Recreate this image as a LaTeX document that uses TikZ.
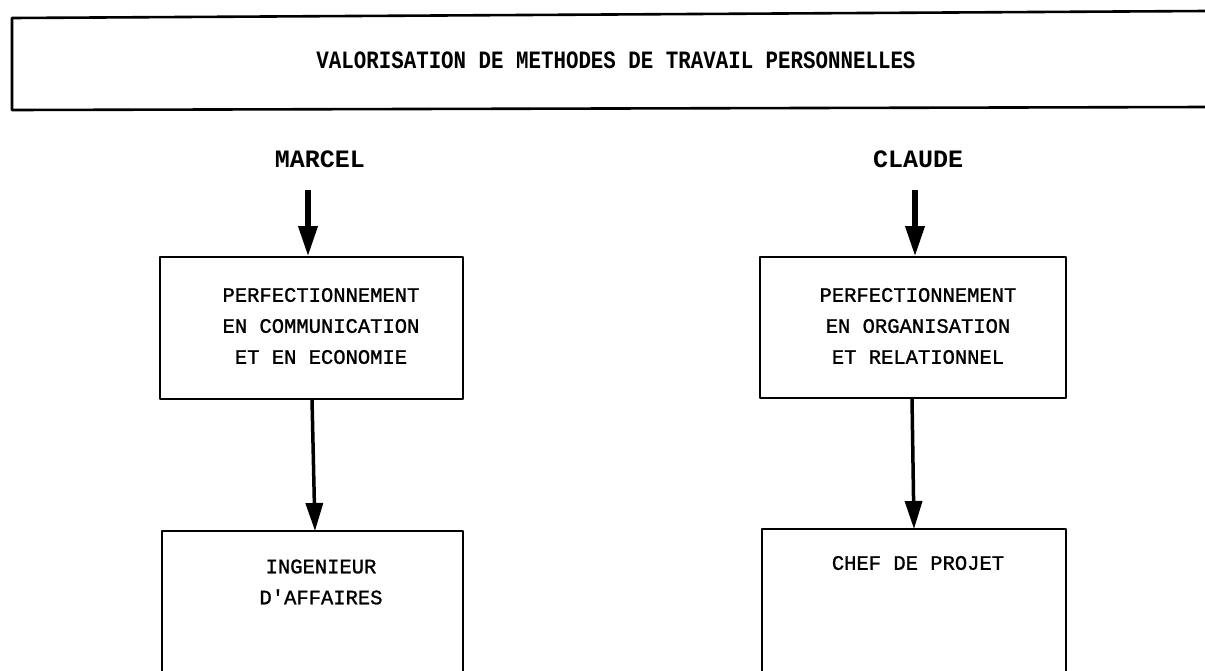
\documentclass[tikz,border=0pt]{standalone}
\usepackage{fontspec}
\newfontfamily\mono[FakeBold=1.2]{Liberation Mono}
\newfontfamily\monobold{Liberation Mono Bold}
\usetikzlibrary{arrows.meta}
\begin{document}
\begin{tikzpicture}[x=1pt,y=-1pt,
  edge/.style={line width=2.6pt, line cap=round, line join=round},
  stage/.style={minimum width=#1, inner sep=0pt, outer sep=0pt},
  label/.style={font=\mono\fontsize{20.5}{31}\selectfont, align=center, inner sep=0pt},
  who/.style={font=\monobold\fontsize{25}{30}\selectfont, inner sep=0pt},
  thickarrow/.style={line width=6.5pt, -{Triangle[length=31pt,width=18pt]}},
  thinarrow/.style={line width=3.5pt, -{Triangle[length=28pt,width=17pt]}}
]
\useasboundingbox (0,0) rectangle (1205,670);

% heading band, open on the right
\draw[edge] (1206,11) -- (12,18) -- (12,110) -- (1206,107);
\node[font=\monobold\fontsize{20.8}{25}\selectfont, inner sep=0pt] (title) at (616,60)
  {\scalebox{1}[1.2]{VALORISATION DE METHODES DE TRAVAIL PERSONNELLES}};

% names
\node[who] (marcel) at (320,159) {MARCEL};
\node[who] (claude) at (918,159) {CLAUDE};

% training boxes
\node[stage=303pt, minimum height=142pt, draw, edge] (trainM) at (311.5,328) {};
\node[stage=306pt, minimum height=141pt, draw, edge] (trainC) at (913,327.5) {};
\node[label] (trainMtxt) at (321,326) {PERFECTIONNEMENT\\EN COMMUNICATION\\ET EN ECONOMIE};
\node[label] (trainCtxt) at (918,326) {PERFECTIONNEMENT\\EN ORGANISATION\\ET RELATIONNEL};

% target positions, boxes running past the lower edge
\node[stage=301pt, minimum height=150pt] (jobM) at (312.5,606) {};
\node[stage=304pt, minimum height=150pt] (jobC) at (914,604) {};
\draw[edge] (jobM.south west) -- (jobM.north west) -- (jobM.north east) -- (jobM.south east);
\draw[edge] (jobC.south west) -- (jobC.north west) -- (jobC.north east) -- (jobC.south east);
\node[label] (jobMtxt) at (321,582) {INGENIEUR\\D\textquotesingle AFFAIRES};
\node[label] (jobCtxt) at (918,563) {CHEF DE PROJET};

% arrows
\coordinate (m0) at (308,190);
\coordinate (c0) at (915,190);
\draw[thickarrow] (m0) -- (m0 |- trainM.north);
\draw[thickarrow] (c0) -- (c0 |- trainC.north);
\draw[thinarrow] ([xshift=0.5pt]trainM.south) -- ([xshift=2.5pt]jobM.north);
\draw[thinarrow] ([xshift=-1pt]trainC.south) -- (jobC.north);
\end{tikzpicture}
\end{document}
